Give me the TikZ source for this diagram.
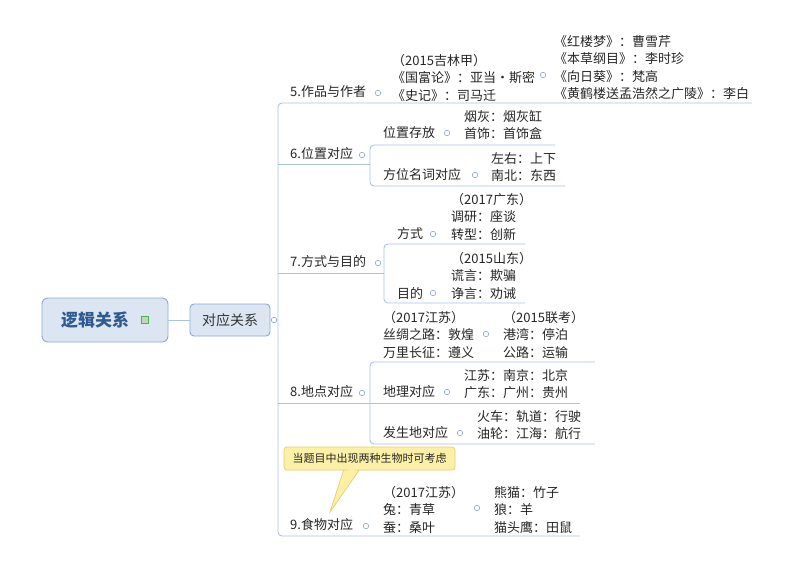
\documentclass[tikz,border=0pt]{standalone}
\usepackage{fontspec}
\newfontfamily\cjk{Noto Sans CJK SC}
\definecolor{lineblue}{HTML}{A9C1E3}
\definecolor{circblue}{HTML}{8FA8CF}
\definecolor{rootfill}{HTML}{DCE6F2}
\definecolor{rootblue}{HTML}{2F5A8F}
\definecolor{callfill}{HTML}{FCEFA6}
\definecolor{calldraw}{HTML}{E8CD6A}
\begin{document}
\begin{tikzpicture}[x=1pt,y=-1pt,
  ln/.style={draw=lineblue,line width=0.9pt,rounded corners=4pt},
  tx/.style={inner sep=0pt,anchor=west,font=\cjk\fontsize{13}{17.5}\selectfont,align=left,text=black!85},
  ml/.style={inner sep=0pt,anchor=north west,yshift=-3pt,font=\cjk\fontsize{13}{17.5}\selectfont,align=left,text=black!85},
  circ/.style={circle,draw=circblue,line width=0.6pt,inner sep=0pt,minimum size=5.5pt,fill=white}]
\useasboundingbox (0,0) rectangle (800,566);
\fill[white] (0,0) rectangle (800,566);
% root
\node[draw=circblue,fill=rootfill,rounded corners=6pt,line width=0.9pt,minimum width=126pt,minimum height=44pt] (root) at (105,320) {};
\node[font=\cjk\bfseries\fontsize{17}{20}\selectfont,text=rootblue,inner sep=0pt] (rt) at (95,320) {逻辑关系};
\node[draw=green!40!gray,fill=green!15!gray!40,minimum size=7pt,inner sep=0pt] (icon) at (145,320) {};
\node[draw=circblue,fill=rootfill,rounded corners=4pt,line width=0.9pt,minimum width=80pt,minimum height=32pt,font=\cjk\fontsize{14}{16}\selectfont,text=black!80] (dy) at (230,320) {对应关系};
\draw[ln] (root.east) -- (dy.west);
\node[circ] (c0) at (274,320) {};
% trunk
\draw[ln] (752,103) -- (278,103) -- (278,536) -- (580,536);
% item 5
\node[tx] (i5) at (290,92) {5.作品与作者};
\node[circ] at (378,93) {};
\node[ml] (g5a) at (392,51) {（2015吉林甲）\\《国富论》：亚当·斯密\\《史记》：司马迁};
\node[circ] at (543,75) {};
\node[ml] (g5b) at (554,32) {《红楼梦》：曹雪芹\\《本草纲目》：李时珍\\《向日葵》：梵高\\《黄鹤楼送孟浩然之广陵》：李白};
% item 6
\draw[ln] (278,164) -- (370,164);
\draw[ln] (555,145) -- (370,145) -- (370,186) -- (565,186);
\node[tx] (i6) at (290,154) {6.位置对应};
\node[circ] at (362,155) {};
\node[tx] (w1) at (383,133) {位置存放};
\node[circ] at (447,133) {};
\node[ml] at (464,107) {烟灰：烟灰缸\\首饰：首饰盒};
\node[tx] (w2) at (383,175) {方位名词对应};
\node[circ] at (475,175) {};
\node[ml] at (491,149) {左右：上下\\南北：东西};
% item 7
\draw[ln] (278,273) -- (384,273);
\draw[ln] (525,244) -- (384,244) -- (384,303) -- (525,303);
\node[tx] (i7) at (290,262) {7.方式与目的};
\node[circ] at (378,263) {};
\node[tx] at (397,234) {方式};
\node[circ] at (433,234) {};
\node[ml] at (451,190) {（2017广东）\\调研：座谈\\转型：创新};
\node[tx] at (397,293) {目的};
\node[circ] at (433,293) {};
\node[ml] at (451,249) {（2015山东）\\谎言：欺骗\\诤言：劝诫};
% item 8
\draw[ln] (278,403) -- (370,403);
\draw[ln] (595,362) -- (370,362) -- (370,444) -- (595,444);
\draw[ln] (370,403) -- (580,403);
\node[tx] (i8) at (290,392) {8.地点对应};
\node[circ] at (362,393) {};
\node[ml] at (383,308) {（2017江苏）\\丝绸之路：敦煌\\万里长征：遵义};
\node[circ] at (486,334) {};
\node[ml] at (503,308) {（2015联考）\\港湾：停泊\\公路：运输};
\node[tx] at (383,392) {地理对应};
\node[circ] at (447,392) {};
\node[ml] at (464,366) {江苏：南京：北京\\广东：广州：贵州};
\node[tx] at (383,433) {发生地对应};
\node[circ] at (460,433) {};
\node[ml] at (477,407) {火车：轨道：行驶\\油轮：江海：航行};
% callout
\fill[callfill,draw=calldraw,line width=0.7pt] (344,469) -- (330,512) -- (360,469) -- cycle;
\node[fill=callfill,draw=calldraw,rounded corners=3pt,line width=0.7pt,minimum width=171pt,minimum height=23pt,font=\cjk\fontsize{11}{12}\selectfont,text=black!85] (call) at (369.5,458.5) {当题目中出现两种生物时可考虑};
\fill[callfill] (345,468) -- (359,468) -- (352,472) -- cycle;
% item 9
\node[tx] (i9) at (290,525) {9.食物对应};
\node[circ] at (366,526) {};
\node[ml] at (383,483) {（2017江苏）\\兔：青草\\蚕：桑叶};
\node[circ] at (477,508) {};
\node[ml] at (494,483) {熊猫：竹子\\狼：羊\\猫头鹰：田鼠};
\end{tikzpicture}
\end{document}
